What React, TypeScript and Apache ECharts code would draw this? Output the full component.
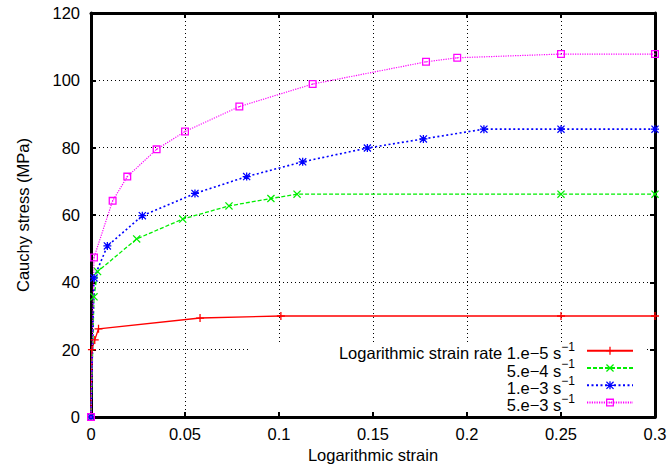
import React, { useEffect, useRef } from 'react';
import * as echarts from 'echarts';

const legendLabels = ['Logarithmic strain rate 1.e\u22125 s', '5.e\u22124 s', '1.e\u22123 s', '5.e\u22123 s'];
const legendSup = '\u22121';

const strainA = [0, 0.0005, 0.002, 0.004, 0.058, 0.101, 0.25, 0.3];
const stressA = [0, 20, 22.9, 26.2, 29.4, 30.0, 30.0, 30.0];

const strainB = [0, 0.0016, 0.0035, 0.0243, 0.0488, 0.0734, 0.0957, 0.1096, 0.25, 0.3];
const stressB = [0, 35.7, 43.2, 52.9, 58.8, 62.7, 64.9, 66.2, 66.2, 66.2];

const strainC = [0, 0.0016, 0.0087, 0.0273, 0.0553, 0.0828, 0.1126, 0.147, 0.1768, 0.209, 0.25, 0.3];
const stressC = [0, 41.3, 50.8, 59.8, 66.4, 71.4, 75.8, 79.9, 82.6, 85.5, 85.5, 85.5];

const strainD = [0, 0.0016, 0.0115, 0.0193, 0.0349, 0.05, 0.0789, 0.1179, 0.1782, 0.1948, 0.25, 0.3];
const stressD = [0, 47.4, 64.2, 71.4, 79.5, 84.8, 92.2, 98.9, 105.5, 106.7, 107.8, 107.8];

const FONT = '"Liberation Sans", Arial, Helvetica, sans-serif';

const SYM_PLUS = 'path://M4.2,0H5.8V4.2H10V5.8H5.8V10H4.2V5.8H0V4.2H4.2Z';
const SYM_X = 'path://M0,1.1L1.1,0L5,3.9L8.9,0L10,1.1L6.1,5L10,8.9L8.9,10L5,6.1L1.1,10L0,8.9L3.9,5Z';
const SYM_STAR = 'path://M4.2,0H5.8V4.2H10V5.8H5.8V10H4.2V5.8H0V4.2H4.2Z M0,1.1L1.1,0L5,3.9L8.9,0L10,1.1L6.1,5L10,8.9L8.9,10L5,6.1L1.1,10L0,8.9L3.9,5Z';
const SYM_SQ = 'path://M0,0H10V10H0Z M1.6,1.6V8.4H8.4V1.6Z M4.2,4.2H5.8V5.8H4.2Z';

const zip = (xs: number[], ys: number[]) => xs.map((x, i) => [x, ys[i]]);

const borderAxisCommon = {
  type: 'value' as const,
  axisLine: { show: true, onZero: false, lineStyle: { color: '#000', width: 3 } },
  axisTick: { show: true, inside: true, length: 5, lineStyle: { color: '#000', width: 2 } },
  axisLabel: { show: false },
  splitLine: { show: false },
  z: 2,
};

export default function App() {
  const ref = useRef<HTMLDivElement>(null);
  useEffect(() => {
    document.body.style.margin = '0';
    const chart = echarts.init(ref.current!, null, { renderer: 'svg' });
    const labelStyle = { fontSize: 16.5, color: '#000', fontFamily: FONT };
    const gridLine = { show: true, lineStyle: { color: '#000', width: 1, type: [1, 3] as number[] } };
    const mk = (name: string, xs: number[], ys: number[], color: string, sym: string, dash: any, width: number, size: number) => ({
      name,
      type: 'line',
      xAxisIndex: 0,
      yAxisIndex: 0,
      data: zip(xs, ys),
      symbol: sym,
      symbolSize: size,
      showAllSymbol: true,
      lineStyle: { color, width, type: dash },
      itemStyle: { color, borderWidth: 0 },
      z: 3,
      clip: false,
    });
    chart.setOption({
      animation: false,
      grid: { left: 91, right: 16, top: 13, bottom: 56, containLabel: false },
      xAxis: [
        {
          type: 'value', min: 0, max: 0.3, interval: 0.05, position: 'bottom',
          axisLine: { show: false, onZero: false }, axisTick: { show: false },
          axisLabel: { ...labelStyle, margin: 8 },
          splitLine: gridLine,
          name: 'Logarithmic strain', nameLocation: 'middle', nameGap: 27,
          nameTextStyle: labelStyle,
          z: 0,
        },
        { ...borderAxisCommon, min: 0, max: 0.3, interval: 0.05, position: 'bottom' },
        { ...borderAxisCommon, min: 0, max: 0.3, interval: 0.05, position: 'top' },
      ],
      yAxis: [
        {
          type: 'value', min: 0, max: 120, interval: 20, position: 'left',
          axisLine: { show: false, onZero: false }, axisTick: { show: false },
          axisLabel: { ...labelStyle, margin: 11 },
          splitLine: gridLine,
          name: 'Cauchy stress (MPa)', nameLocation: 'middle', nameGap: 60,
          nameTextStyle: labelStyle,
          z: 0,
        },
        { ...borderAxisCommon, min: 0, max: 120, interval: 20, position: 'left' },
        { ...borderAxisCommon, min: 0, max: 120, interval: 20, position: 'right' },
      ],
      graphic: [
        { type: 'rect', shape: { x: 251, y: 343, width: 394, height: 73 }, style: { fill: '#fff' }, z: 1, silent: true },
      ],
      legend: {
        data: legendLabels,
        orient: 'vertical',
        right: 32,
        top: 334.7,
        align: 'right',
        itemWidth: 46,
        itemHeight: 10,
        itemGap: -4.7,
        padding: 5,
        selectedMode: false,
        formatter: (n: string) => `{m|${n}}{s|${legendSup}}`,
        textStyle: {
          fontFamily: FONT, color: '#000',
          rich: {
            m: { fontSize: 16.5, lineHeight: 22, verticalAlign: 'bottom', fontFamily: FONT, color: '#000' },
            s: { fontSize: 12, lineHeight: 12, verticalAlign: 'top', padding: [1, 7, 0, 0], fontFamily: FONT, color: '#000' },
          },
        },
        z: 4,
      },
      series: [
        mk(legendLabels[0], strainA, stressA, '#ff0000', SYM_PLUS, 'solid', 1.3, 8),
        mk(legendLabels[1], strainB, stressB, '#00ee00', SYM_X, [4, 2], 1.3, 8),
        mk(legendLabels[2], strainC, stressC, '#0000ff', SYM_STAR, [2, 2.5], 1.6, 8),
        mk(legendLabels[3], strainD, stressD, '#ff00ff', SYM_SQ, [1.2, 1.2], 1.2, 8),
      ],
    });
    return () => chart.dispose();
  }, []);
  return <div ref={ref} style={{ width: 671, height: 473 }} />;
}
